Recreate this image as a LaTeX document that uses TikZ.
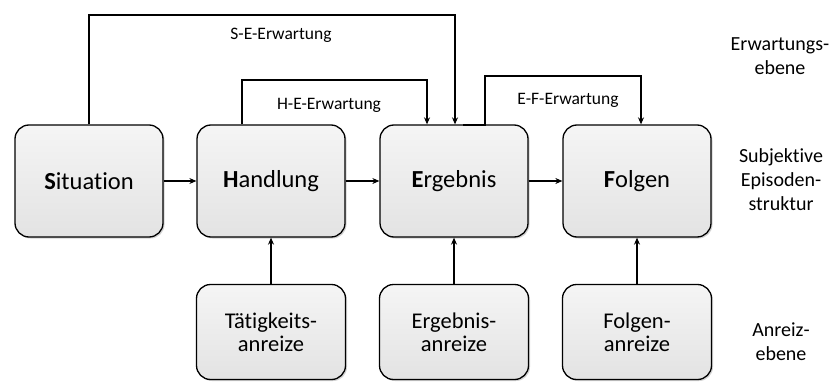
\documentclass[tikz,border=0pt]{standalone}
\usepackage{fontspec}
\setmainfont{Carlito}[Ligatures=NoCommon]
\usetikzlibrary{arrows.meta,shadows}
\begin{document}
\begin{tikzpicture}[x=1pt,y=-1pt,
  box/.style={draw=black, line width=1.3pt, rounded corners=14pt, top color=gray!8, bottom color=gray!22,
    drop shadow={shadow xshift=1.5pt, shadow yshift=-1.5pt, fill=gray!70},
    inner sep=0pt, align=center},
  bigbox/.style={box, minimum width=148pt, minimum height=112pt, font=\fontsize{24.5}{28}\selectfont},
  smallbox/.style={box, minimum width=149pt, minimum height=95pt, font=\fontsize{22.5}{23}\selectfont},
  conn/.style={line width=1.1pt, -{Stealth[length=7pt,width=6pt]}},
  lbl/.style={font=\fontsize{17.5}{21}\selectfont, align=center, inner sep=0pt},
  side/.style={font=\fontsize{20}{24}\selectfont, align=center, inner sep=0pt}]
\useasboundingbox (0,0) rectangle (829,385);
\node[bigbox] (S) at (89,181) {\textbf{S}ituation};
\node[bigbox] (H) at (271,181) {\textbf{H}andlung};
\node[bigbox] (E) at (454,181) {\textbf{E}rgebnis};
\node[bigbox] (F) at (637,181) {\textbf{F}olgen};
\node[smallbox] (TA) at (271,332) {Tätigkeits-\\anreize};
\node[smallbox] (EA) at (454,332) {Ergebnis-\\anreize};
\node[smallbox] (FA) at (637,332) {Folgen-\\anreize};
% horizontal arrows
\draw[conn] (S.east) -- (H.west);
\draw[conn] (H.east) -- (E.west);
\draw[conn] (E.east) -- (F.west);
% vertical arrows
\draw[conn] (TA.north) -- (H.south);
\draw[conn] (EA.north) -- (E.south);
\draw[conn] (FA.north) -- (F.south);
% expectation arrows
\coordinate (s1) at (89,15);
\coordinate (s2) at (455,15);
\draw[conn] (S.north) -- (s1) -- (s2) -- (s2 |- E.north);
\coordinate (h1) at (242,80);
\coordinate (h2) at (427,80);
\draw[conn] (h1 |- H.north) -- (h1) -- (h2) -- (h2 |- E.north);
\coordinate (e0) at (463,125);
\coordinate (e1) at (485,76);
\coordinate (e2) at (641,76);
\draw[conn] (e0) -- (e1 |- e0) -- (e1) -- (e2) -- (e2 |- F.north);
\node[lbl] (lse) at (281,35) {S-E-Erwartung};
\node[lbl] (lhe) at (329,105) {H-E-Erwartung};
\node[lbl] (lef) at (568,100) {E-F-Erwartung};
% level labels
\node[side] (l1) at (780,56) {Erwartungs-\\ebene};
\node[side] (l2) at (781,180) {Subjektive\\Episoden-\\struktur};
\node[side] (l3) at (781,342) {Anreiz-\\ebene};
\end{tikzpicture}
\end{document}
